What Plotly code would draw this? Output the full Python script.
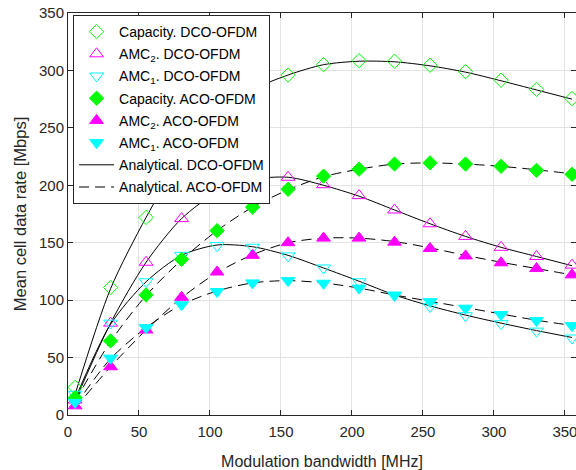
import plotly.graph_objects as go

# Modulation bandwidth [MHz]
bandwidth = [5, 30, 55, 80, 105, 130, 155, 180, 205, 230, 255, 280, 305, 330, 355]

# Simulated markers [Mbps]
cap_dco = [24, 111, 172, 225, 259, 283, 296, 305, 308.5, 308, 304.5, 299, 291.5, 283.5, 275.5]
amc2_dco = [13, 80, 133, 171, 194, 205, 207, 200.5, 191, 178.5, 166.5, 155.5, 146, 138, 130.5]
amc1_dco = [18, 80, 116, 139, 147.5, 146, 138.5, 128, 116, 104, 94.5, 86.5, 79.5, 73, 67]
cap_aco = [15, 64.5, 104.5, 135.5, 160.5, 181, 196.5, 208, 214, 218.5, 219.5, 218.5, 216.5, 213, 209.5]
amc2_aco = [8, 42, 74, 102.5, 124.5, 139, 150, 154, 154, 150.5, 145, 138.5, 132.5, 127.5, 122]
amc1_aco = [11, 49.5, 76, 96, 107.5, 115, 117, 114.7, 110.5, 104.5, 98.7, 93, 87.5, 82.2, 77.8]

# Analytical curves [Mbps]
an_cap_dco = [18, 110, 172, 224, 259, 283, 296, 305, 308, 307.5, 304, 298.5, 291, 283, 275]
an_amc2_dco = [12, 80, 133, 171, 194, 205, 207, 200, 190.5, 178.5, 166.5, 155.5, 146, 138, 130]
an_amc1_dco = [14, 79, 116, 139, 148, 146.5, 139, 128, 116.5, 104.5, 95, 87, 80, 73.5, 67.5]
an_cap_aco = [12, 64, 104, 135, 160.5, 181, 196, 207.5, 214, 218.5, 219.5, 218.5, 216.5, 213.5, 210]
an_amc2_aco = [6, 42, 74, 102, 124, 139.5, 150, 154, 154, 151, 145.5, 139, 133, 127.5, 122]
an_amc1_aco = [8, 49, 76, 96, 108, 115, 117, 115, 110.5, 104.5, 99, 93.5, 88, 82.5, 78]

GREEN = "#00ff00"
MAGENTA = "#ff00ff"
CYAN = "#00ffff"
DASH = "10px,6px"

fig = go.Figure()

markers = [
    ("Capacity. DCO-OFDM", cap_dco, "diamond-open", GREEN, 11),
    ("AMC<sub>2</sub>. DCO-OFDM", amc2_dco, "triangle-up-open", MAGENTA, 12),
    ("AMC<sub>1</sub>. DCO-OFDM", amc1_dco, "triangle-down-open", CYAN, 12),
    ("Capacity. ACO-OFDM", cap_aco, "diamond", GREEN, 11),
    ("AMC<sub>2</sub>. ACO-OFDM", amc2_aco, "triangle-up", MAGENTA, 12),
    ("AMC<sub>1</sub>. ACO-OFDM", amc1_aco, "triangle-down", CYAN, 12),
]

analytic = [
    (an_cap_dco, "solid"), (an_amc2_dco, "solid"), (an_amc1_dco, "solid"),
    (an_cap_aco, DASH), (an_amc2_aco, DASH), (an_amc1_aco, DASH),
]

for vals, dash in analytic:
    fig.add_trace(go.Scatter(
        x=bandwidth, y=vals, mode="lines",
        line=dict(color="black", width=1, dash=dash, shape="spline", smoothing=0.8),
        showlegend=False, hoverinfo="skip"))

for i, (name, vals, sym, col, sz) in enumerate(markers):
    fig.add_trace(go.Scatter(
        x=bandwidth, y=vals, mode="markers", name=name, legendgroup=f"g{i}",
        marker=dict(symbol=sym, color=col, size=sz,
                    line=dict(color=col, width=1))))

fig.add_trace(go.Scatter(x=[None], y=[None], mode="lines", name="Analytical. DCO-OFDM",
                         legendgroup="g6", line=dict(color="black", width=1)))
fig.add_trace(go.Scatter(x=[None], y=[None], mode="lines", name="Analytical. ACO-OFDM",
                         legendgroup="g7", line=dict(color="black", width=1, dash=DASH)))

axis_common = dict(
    showgrid=True, gridcolor="#e3e3e3", gridwidth=1,
    showline=True, linecolor="#262626", linewidth=1, mirror="ticks",
    ticks="inside", ticklen=5, tickcolor="#262626",
    tickfont=dict(family="Liberation Sans, Arial", size=15, color="#262626"),
    zeroline=False, ticklabeloverflow="allow",
)

fig.update_layout(
    width=576, height=470,
    margin=dict(l=68, r=0, t=13, b=55),
    paper_bgcolor="white", plot_bgcolor="white",
    font=dict(family="Liberation Sans, Arial", color="#262626"),
    xaxis=dict(range=[0, 357.8], tickvals=[0, 50, 100, 150, 200, 250, 300, 350],
               ticklabelstandoff=3,
               title=dict(text="Modulation bandwidth [MHz]", font=dict(size=16), standoff=18),
               **axis_common),
    yaxis=dict(range=[0, 350], tickvals=[0, 50, 100, 150, 200, 250, 300, 350],
               title=dict(text="Mean cell data rate [Mbps]", font=dict(size=16.5), standoff=8),
               **axis_common),
    legend=dict(x=0.01, y=0.995, xanchor="left", yanchor="top",
                bgcolor="white", bordercolor="#262626", borderwidth=1,
                font=dict(size=14, color="black"), tracegroupgap=1,
                itemwidth=35, traceorder="grouped"),
)

fig.write_html("out.html")
